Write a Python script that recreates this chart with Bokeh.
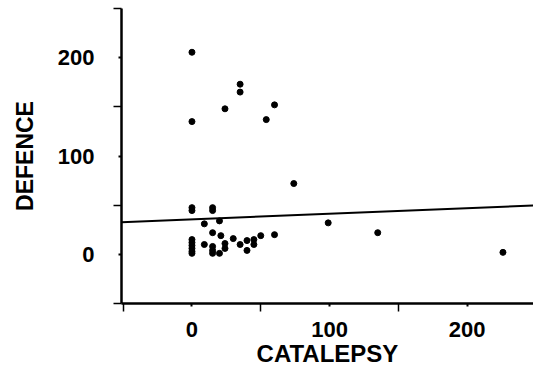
from bokeh.plotting import figure
from bokeh.models import Range1d, FixedTicker
from bokeh.embed import file_html
from bokeh.resources import INLINE

# Scatter data (CATALEPSY vs DEFENCE)
catalepsy = [0, 0, 35, 35, 24, 60, 54, 74, 99, 135, 226,
             0, 0, 15, 15, 9, 20, 15, 21, 30, 9, 15, 15, 15, 20,
             24, 24, 35, 40, 40, 45, 45, 50, 60,
             0, 0, 0, 0, 0, 0]
defence = [205.5, 135, 173, 165, 148, 152, 137, 72, 32, 22, 2,
           47.5, 44.5, 47.5, 44.5, 31, 34, 22, 19, 16, 10, 8, 4, 1, 1,
           11, 6, 10, 4, 14, 15, 10, 19, 20,
           15, 12, 9, 6, 3, 1]

# Regression line endpoints
fit_catalepsy = [-51.2, 248.2]
fit_defence = [32.7, 49.7]

# Ticks
x_major = [0, 100, 200]
x_minor = [-50, 50, 150, 250]
y_major = [0, 100, 200]
y_minor = [-50, 50, 150, 250]

p = figure(width=533, height=369,
           x_range=Range1d(-51.2, 248.2), y_range=Range1d(-50, 250),
           output_backend="svg", toolbar_location=None,
           min_border_left=121, min_border_right=0,
           min_border_top=8, min_border_bottom=0,
           x_axis_label="CATALEPSY", y_axis_label="DEFENCE")
p.outline_line_color = None
p.xgrid.visible = False
p.ygrid.visible = False
p.background_fill_color = "white"
p.border_fill_color = "white"

for ax, major, minor in ((p.xaxis[0], x_major, x_minor),
                         (p.yaxis[0], y_major, y_minor)):
    ax.ticker = FixedTicker(ticks=major, minor_ticks=minor)
    ax.axis_line_width = 2.5
    ax.axis_line_color = "black"
    ax.major_tick_line_width = 2
    ax.major_tick_line_color = "black"
    ax.minor_tick_line_width = 1.5
    ax.minor_tick_line_color = "black"
    ax.major_tick_in = 0
    ax.major_tick_out = 3
    ax.minor_tick_in = 0
    ax.minor_tick_out = 8
    ax.major_label_text_font = "Liberation Sans"
    ax.major_label_text_font_style = "bold"
    ax.major_label_text_font_size = "22px"
    ax.major_label_text_color = "black"
    ax.axis_label_text_font = "Liberation Sans"
    ax.axis_label_text_font_style = "bold"
    ax.axis_label_text_color = "black"

p.xaxis[0].axis_label_text_font_size = "24px"
p.yaxis[0].axis_label_text_font_size = "23px"
p.xaxis[0].major_label_standoff = 10
p.xaxis[0].axis_label_standoff = 0
p.yaxis[0].major_label_standoff = 19
p.yaxis[0].axis_label_standoff = 17

p.line(fit_catalepsy, fit_defence, line_color="black", line_width=2)
p.scatter(catalepsy, defence, size=6, fill_color="black", line_color="black")

open("out.html", "w").write(file_html(p, INLINE))
